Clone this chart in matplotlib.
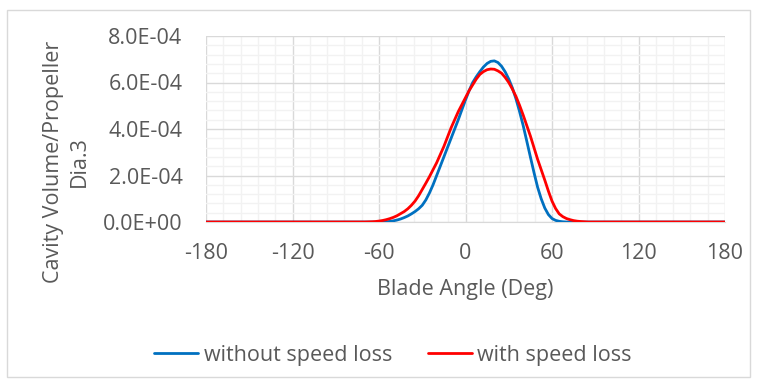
import matplotlib
matplotlib.use("Agg")
import matplotlib.pyplot as plt
from matplotlib.ticker import MultipleLocator, FuncFormatter
from matplotlib.patches import Rectangle

# ---- data (Cavity Volume / Propeller Dia^3, in units of 1E-4) ----
angles_blue = [-180, -120,
               -62.5, -60, -57.5, -55, -52.5, -50, -47.5, -45, -42.5, -40,
               -37.5, -35, -32.5, -30, -27.5, -25, -22.5, -20, -17.5, -15,
               -12.5, -10, -7.5, -5, -2.5, 0, 2.5, 5, 7.5, 10,
               12.5, 15, 17.5, 20, 22.5, 25, 27.5, 30, 32.5, 35,
               37.5, 40, 42.5, 45, 47.5, 50, 52.5, 55, 57.5, 60,
               62.5, 65, 67.5, 70,
               120, 180]
without_speed_loss_e4 = [0, 0,
                         0, 0, 0.005, 0.01, 0.025, 0.05, 0.085, 0.13, 0.19, 0.26,
                         0.35, 0.45, 0.57, 0.72, 0.95, 1.25, 1.6, 2.0, 2.4, 2.8,
                         3.2, 3.6, 4.0, 4.4, 4.83, 5.25, 5.65, 6.0, 6.25, 6.47,
                         6.67, 6.82, 6.91, 6.93, 6.86, 6.7, 6.46, 6.15, 5.77, 5.3,
                         4.75, 4.15, 3.48, 2.8, 2.13, 1.5, 1.0, 0.6, 0.32, 0.15,
                         0.07, 0.03, 0.01, 0,
                         0, 0]

angles_red = [-180, -120,
              -70, -67.5, -65, -62.5, -60, -57.5, -55, -52.5, -50, -47.5,
              -45, -42.5, -40, -37.5, -35, -32.5, -30, -27.5, -25, -22.5,
              -20, -17.5, -15, -12.5, -10, -7.5, -5, -2.5, 0, 2.5,
              5, 7.5, 10, 12.5, 15, 17.5, 20, 22.5, 25, 27.5,
              30, 32.5, 35, 37.5, 40, 42.5, 45, 47.5, 50, 52.5,
              55, 57.5, 60, 62.5, 65, 67.5, 70, 72.5, 75, 77.5,
              80, 82.5, 85,
              120, 180]
with_speed_loss_e4 = [0, 0,
                      0, 0.005, 0.01, 0.02, 0.04, 0.065, 0.1, 0.145, 0.2, 0.27,
                      0.36, 0.45, 0.57, 0.72, 0.9, 1.13, 1.4, 1.67, 1.95, 2.25,
                      2.55, 2.9, 3.25, 3.65, 4.05, 4.4, 4.75, 5.05, 5.35, 5.65,
                      5.9, 6.15, 6.35, 6.47, 6.55, 6.58, 6.57, 6.5, 6.4, 6.22,
                      6.0, 5.72, 5.4, 5.02, 4.6, 4.15, 3.7, 3.2, 2.7, 2.25,
                      1.8, 1.33, 0.9, 0.58, 0.35, 0.23, 0.15, 0.1, 0.06, 0.035,
                      0.02, 0.01, 0,
                      0, 0]

x_ticks = [-180, -120, -60, 0, 60, 120, 180]
y_ticks = [0, 2e-4, 4e-4, 6e-4, 8e-4]
series_names = ["without speed loss", "with speed loss"]

# ---- style ----
FONT = ["Open Sans", "DejaVu Sans"]
plt.rcParams["font.family"] = FONT
plt.rcParams["axes.unicode_minus"] = False
TXT = "#595959"
FS = 15.5
W, H = 757, 383
fig = plt.figure(figsize=(W / 100, H / 100), dpi=100)

# chart border
fig.add_artist(Rectangle((7 / W, 1 - 377 / H), (750 - 7) / W, (377 - 10) / H,
                         transform=fig.transFigure, fill=False,
                         edgecolor="#D9D9D9", linewidth=1))

ax = fig.add_axes([206 / W, 1 - 222 / H, (725 - 206) / W, (222 - 36) / H])
ax.plot(angles_blue, [v * 1e-4 for v in without_speed_loss_e4], color="#0070C0",
        lw=2.0, label=series_names[0], solid_capstyle="round",
        solid_joinstyle="round", zorder=3)
ax.plot(angles_red, [v * 1e-4 for v in with_speed_loss_e4], color="#FF0000",
        lw=2.0, label=series_names[1], solid_capstyle="round",
        solid_joinstyle="round", zorder=4)

ax.set_xlim(-180, 180)
ax.set_ylim(0, 8e-4)
ax.set_xticks(x_ticks)
ax.set_yticks(y_ticks)
ax.xaxis.set_minor_locator(MultipleLocator(12))
ax.yaxis.set_minor_locator(MultipleLocator(4e-5))
ax.yaxis.set_major_formatter(FuncFormatter(lambda v, p: "%.1E" % v))
ax.grid(which="major", color="#D9D9D9", lw=1.0, zorder=1)
ax.grid(which="minor", color="#F2F2F2", lw=1.0, zorder=0)
ax.set_axisbelow(True)
for s in ["top", "right", "left"]:
    ax.spines[s].set_visible(False)
ax.spines["bottom"].set_color("#D9D9D9")
ax.tick_params(which="both", length=0, colors=TXT, labelsize=FS)
ax.tick_params(axis="y", pad=17)
ax.tick_params(axis="x", pad=15)

fig.text(465 / W, 1 - 290 / H, "Blade Angle (Deg)", ha="center", va="center",
         color=TXT, fontsize=FS)
fig.text(66 / W, 1 - 162 / H, "Cavity Volume/Propeller\nDia.3", ha="center",
         va="center", rotation=90, color=TXT, fontsize=FS,
         multialignment="center", linespacing=1.3)

fig.legend(loc="center", bbox_to_anchor=(393 / W, 1 - 355 / H), ncol=2,
           frameon=False, fontsize=FS, labelcolor=TXT, handlelength=2.05,
           handletextpad=0.25, columnspacing=1.65)

fig.savefig("out.png", dpi=100)
